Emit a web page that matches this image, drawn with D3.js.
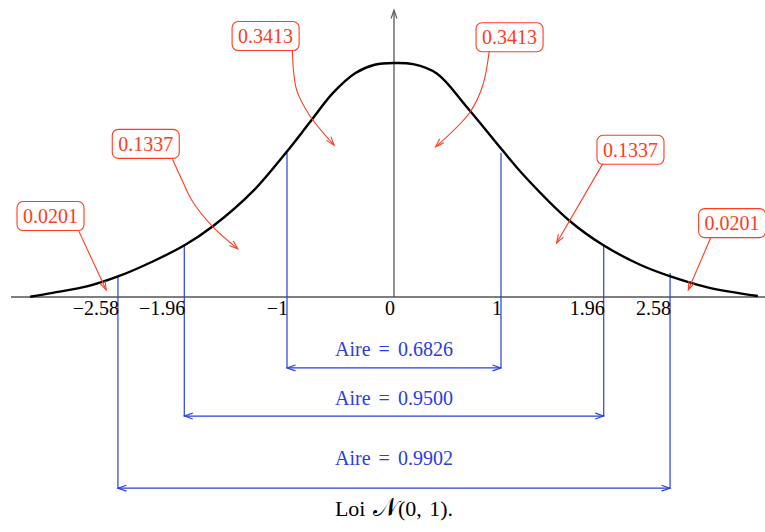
<!DOCTYPE html>
<html>
<head>
<meta charset="utf-8">
<script src="https://cdn.jsdelivr.net/npm/d3@7"></script>
<style>
  html, body { margin: 0; padding: 0; background: #fff; }
  svg { display: block; font-family: "Liberation Serif", "DejaVu Serif", serif; }
</style>
</head>
<body>
<svg id="chart" width="765" height="532"></svg>
<script>
// courbe (x en écarts-types, y = densité)
const curveX = [-3.4, -3.19, -2.87, -2.58, -2.25, -1.95, -1.69, -1.32, -1.01, -0.79, -0.57, -0.36, -0.18, 0, 0.18, 0.40, 0.68, 1.01, 1.21, 1.64, 1.95, 2.30, 2.57, 2.93, 3.4];
const curveY = [0.0005, 0.007, 0.018, 0.035, 0.061, 0.089, 0.121, 0.180, 0.246, 0.297, 0.348, 0.382, 0.396, 0.399, 0.397, 0.381, 0.324, 0.251, 0.208, 0.130, 0.089, 0.055, 0.036, 0.0165, 0.0017];

// graduations
const ticks = [-2.58, -1.96, -1, 0, 1, 1.96, 2.58];
const tickLabels = ['\u22122.58', '\u22121.96', '\u22121', '0', '1', '1.96', '2.58'];

// bornes des intervalles et hauteur de la courbe à ces bornes
const bounds = [-2.58, -1.96, -1, 1, 1.96, 2.58];
const boundTops = [0.035, 0.089, 0.246, 0.246, 0.089, 0.041];

// intervalles symétriques et leurs aires
const intervals = [1, 1.96, 2.58];
const areas = ['0.6826', '0.9500', '0.9902'];
const intervalLevels = [-0.121, -0.203, -0.326];
const areaTextLevels = [-0.100, -0.184, -0.286];

// probabilités des bandes + ancrage des étiquettes et des flèches
const probs = ['0.0201', '0.1337', '0.3413', '0.3413', '0.1337', '0.0201'];
const boxCenters = [[-3.21, 0.138], [-2.32, 0.261], [-1.20, 0.445], [1.08, 0.443], [2.21, 0.251], [3.16, 0.126]];
const arrowPaths = [
  [[-2.95, 0.114], [-2.69, 0.012]],
  [[-2.07, 0.235], [-1.98, 0.199], [-1.89, 0.165], [-1.69, 0.119], [-1.46, 0.082]],
  [[-0.95, 0.421], [-0.91, 0.353], [-0.79, 0.310], [-0.56, 0.259]],
  [[0.89, 0.419], [0.83, 0.361], [0.71, 0.315], [0.39, 0.256]],
  [[1.95, 0.227], [1.52, 0.092]],
  [[2.96, 0.101], [2.75, 0.012]]
];

const red = '#ff3b22';
const blue = '#2a3ee0';
const grey = '#555';

const svg = d3.select('#chart');

const x = d3.scaleLinear().domain([-3.5, 3.5]).range([19.5, 768.5]);
const y = d3.scaleLinear().domain([0, 0.4]).range([297, 62.4]);

// pointe de flèche ouverte au bout d'un segment
const arrowHead = (g, x1, y1, x2, y2, color) => {
  const a = Math.atan2(y2 - y1, x2 - x1);
  const len = 9, spread = 0.33;
  const p = [
    [x2 - len * Math.cos(a - spread), y2 - len * Math.sin(a - spread)],
    [x2, y2],
    [x2 - len * Math.cos(a + spread), y2 - len * Math.sin(a + spread)]
  ];
  g.append('path')
    .attr('d', d3.line()(p))
    .attr('fill', 'none')
    .attr('stroke', color)
    .attr('stroke-width', 1.1);
};

// axes
svg.append('line')
  .attr('x1', 11).attr('x2', 765)
  .attr('y1', y(0)).attr('y2', y(0))
  .attr('stroke', grey).attr('stroke-width', 1.3);

svg.append('line')
  .attr('x1', x(0)).attr('x2', x(0))
  .attr('y1', y(0)).attr('y2', 11)
  .attr('stroke', grey).attr('stroke-width', 1.3);
arrowHead(svg, x(0), 40, x(0), 10, grey);

// traits verticaux bleus
const gBlue = svg.append('g');
bounds.forEach((b, i) => {
  const lvl = intervalLevels[intervals.indexOf(Math.abs(b))];
  gBlue.append('line')
    .attr('x1', x(b)).attr('x2', x(b))
    .attr('y1', y(boundTops[i])).attr('y2', y(lvl))
    .attr('stroke', blue).attr('stroke-width', 1.2);
});

// flèches doubles + aires
intervals.forEach((v, i) => {
  const yy = y(intervalLevels[i]);
  gBlue.append('line')
    .attr('x1', x(-v)).attr('x2', x(v))
    .attr('y1', yy).attr('y2', yy)
    .attr('stroke', blue).attr('stroke-width', 1.2);
  arrowHead(gBlue, x(-v) + 20, yy, x(-v), yy, blue);
  arrowHead(gBlue, x(v) - 20, yy, x(v), yy, blue);
  gBlue.append('text')
    .attr('x', x(0))
    .attr('y', y(areaTextLevels[i]))
    .attr('text-anchor', 'middle')
    .attr('font-size', 20)
    .attr('fill', blue)
    .attr('word-spacing', 3)
    .text(`Aire = ${areas[i]}`);
});

// courbe
svg.append('path')
  .datum(curveX.map((d, i) => [d, curveY[i]]))
  .attr('d', d3.line().x(d => x(d[0])).y(d => y(d[1])).curve(d3.curveCatmullRom.alpha(0.5)))
  .attr('fill', 'none')
  .attr('stroke', '#000')
  .attr('stroke-width', 2.4);

// étiquettes des graduations
svg.selectAll('.tick')
  .data(ticks)
  .enter()
  .append('text')
  .attr('class', 'tick')
  .attr('x', d => x(d) + 1)
  .attr('y', 315)
  .attr('text-anchor', 'end')
  .attr('font-size', 20)
  .attr('fill', '#000')
  .text((d, i) => tickLabels[i]);

// étiquettes rouges + flèches
const gRed = svg.append('g');
probs.forEach((p, i) => {
  const cx = x(boxCenters[i][0]);
  const cy = y(boxCenters[i][1]);
  gRed.append('rect')
    .attr('x', cx - 33.5).attr('y', cy - 14.5)
    .attr('width', 67).attr('height', 29)
    .attr('rx', 6)
    .attr('fill', '#fff')
    .attr('stroke', red).attr('stroke-width', 1.1);
  gRed.append('text')
    .attr('x', cx).attr('y', cy + 7)
    .attr('text-anchor', 'middle')
    .attr('font-size', 20)
    .attr('fill', red)
    .text(p);

  const pts = arrowPaths[i].map(d => [x(d[0]), y(d[1])]);
  gRed.append('path')
    .attr('d', d3.line().curve(d3.curveCatmullRom)(pts))
    .attr('fill', 'none')
    .attr('stroke', red).attr('stroke-width', 1.1);
  const n = pts.length;
  arrowHead(gRed, pts[n - 2][0], pts[n - 2][1], pts[n - 1][0], pts[n - 1][1], red);
});

// titre
const title = svg.append('text')
  .attr('x', x(0))
  .attr('y', 516)
  .attr('text-anchor', 'middle')
  .attr('font-size', 22)
  .attr('word-spacing', 2)
  .attr('fill', '#000');
title.append('tspan').text('Loi ');
title.append('tspan').attr('font-family', 'DejaVu Serif, DejaVu Sans').attr('font-size', 26).text('\uD835\uDCA9');
title.append('tspan').text('(0, 1).');
</script>
</body>
</html>
